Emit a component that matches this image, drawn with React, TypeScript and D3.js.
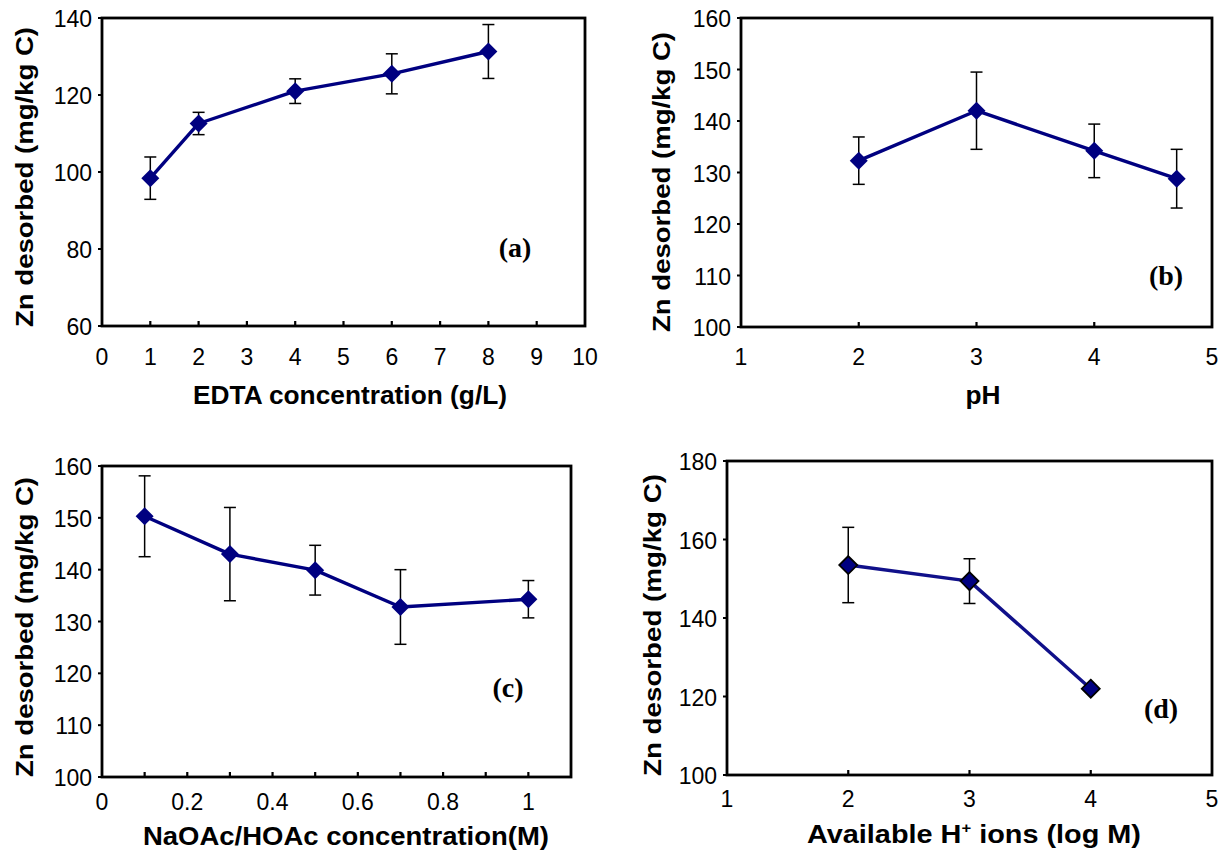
import React from "react";
import * as d3 from "d3";

// ---- Data ----
const edtaX = [1, 2, 4, 6, 8];
const edtaY = [98.4, 112.6, 121.0, 125.5, 131.3];
const edtaErr = [5.5, 2.9, 3.2, 5.2, 7.0];

const phX = [2, 3, 4, 4.7];
const phY = [132.3, 142.0, 134.2, 128.8];
const phErr = [4.6, 7.5, 5.2, 5.7];

const bufX = [0.1, 0.3, 0.5, 0.7, 1.0];
const bufY = [150.3, 143.0, 139.9, 132.8, 134.3];
const bufErr = [7.8, 9.0, 4.8, 7.2, 3.6];

const hX = [2, 3, 4];
const hY = [153.5, 149.4, 122.0];
const hErr = [9.6, 5.7, 0];

const xTicksA = [0, 1, 2, 3, 4, 5, 6, 7, 8, 9, 10];
const yTicksA = [60, 80, 100, 120, 140];
const xTicksB = [1, 2, 3, 4, 5];
const yTicksB = [100, 110, 120, 130, 140, 150, 160];
const xTicksC = [0, 0.1, 0.2, 0.3, 0.4, 0.5, 0.6, 0.7, 0.8, 0.9, 1.0, 1.1];
const xLabelsC = [0, 0.2, 0.4, 0.6, 0.8, 1];
const yTicksC = [100, 110, 120, 130, 140, 150, 160];
const xTicksD = [1, 2, 3, 4, 5];
const yTicksD = [100, 120, 140, 160, 180];

const YTITLE = "Zn desorbed (mg/kg C)";

type PanelProps = {
  box: { l: number; r: number; t: number; b: number };
  xDomain: [number, number];
  yDomain: [number, number];
  xTicks: number[];
  xLabels: number[];
  yTicks: number[];
  xs: number[];
  ys: number[];
  errs: number[];
  letter: string;
  letterPos: [number, number];
  xTitle: React.ReactNode;
  xTitlePos: [number, number];
  xTitleLen: number;
  yTitlePos: [number, number];
  yTitleLen: number;
  xLabelDy: number;
  outlined?: boolean;
  lineColor?: string;
};

const SANS = "'Liberation Sans', Arial, Helvetica, sans-serif";
const SERIF = "'Liberation Serif', 'Times New Roman', serif";

function Panel(p: PanelProps) {
  const x = d3.scaleLinear().domain(p.xDomain).range([p.box.l, p.box.r]);
  const y = d3.scaleLinear().domain(p.yDomain).range([p.box.b, p.box.t]);
  const line = d3
    .line<number>()
    .x((_, i) => x(p.xs[i]))
    .y((d) => y(d));
  const pathD = line(p.ys) || "";
  const dia = 9;
  const fmt = (v: number) => (Math.abs(v - Math.round(v)) < 1e-9 ? String(Math.round(v)) : String(+v.toFixed(1)));
  const lc = p.lineColor || "#000080";
  return (
    <g>
      {/* inner x ticks */}
      {p.xTicks
        .filter((t) => t > p.xDomain[0] + 1e-9 && t < p.xDomain[1] - 1e-9)
        .map((t, i) => (
          <line key={"xt" + i} x1={x(t)} x2={x(t)} y1={p.box.b} y2={p.box.b - 5} stroke="#000" strokeWidth={2.2} />
        ))}
      {/* outer y ticks */}
      {p.yTicks.map((t, i) => (
        <line key={"yt" + i} x1={p.box.l} x2={p.box.l - 4} y1={y(t)} y2={y(t)} stroke="#000" strokeWidth={2} />
      ))}
      {/* frame */}
      <rect
        x={p.box.l}
        y={p.box.t}
        width={p.box.r - p.box.l}
        height={p.box.b - p.box.t}
        fill="none"
        stroke="#000"
        strokeWidth={2.8}
      />
      {/* y tick labels */}
      {p.yTicks.map((t, i) => (
        <text
          key={"yl" + i}
          x={p.box.l - 10}
          y={y(t) + 9}
          textAnchor="end"
          fontFamily={SANS}
          fontSize={23}
          fill="#000"
        >
          {fmt(t)}
        </text>
      ))}
      {/* x tick labels */}
      {p.xLabels.map((t, i) => (
        <text
          key={"xl" + i}
          x={x(t)}
          y={p.box.b + p.xLabelDy}
          textAnchor="middle"
          fontFamily={SANS}
          fontSize={23}
          fill="#000"
        >
          {fmt(t)}
        </text>
      ))}
      {/* error bars */}
      {p.ys.map((v, i) =>
        p.errs[i] > 0 ? (
          <g key={"e" + i} stroke="#000" strokeWidth={1.5}>
            <line x1={x(p.xs[i])} x2={x(p.xs[i])} y1={y(v - p.errs[i])} y2={y(v + p.errs[i])} />
            <line x1={x(p.xs[i]) - 6} x2={x(p.xs[i]) + 6} y1={y(v - p.errs[i])} y2={y(v - p.errs[i])} />
            <line x1={x(p.xs[i]) - 6} x2={x(p.xs[i]) + 6} y1={y(v + p.errs[i])} y2={y(v + p.errs[i])} />
          </g>
        ) : null
      )}
      {/* line */}
      <path d={pathD} fill="none" stroke={lc} strokeWidth={3.4} strokeLinejoin="round" />
      {/* markers */}
      {p.ys.map((v, i) => {
        const cx = x(p.xs[i]);
        const cy = y(v);
        return (
          <path
            key={"m" + i}
            d={`M${cx},${cy - dia}L${cx + dia},${cy}L${cx},${cy + dia}L${cx - dia},${cy}Z`}
            fill="#000080"
            stroke={p.outlined ? "#000" : "none"}
            strokeWidth={p.outlined ? 1.8 : 0}
          />
        );
      })}
      {/* panel letter */}
      <text
        x={p.letterPos[0]}
        y={p.letterPos[1]}
        textAnchor="middle"
        fontFamily={SERIF}
        fontWeight="bold"
        fontSize={28}
        fill="#000"
      >
        {p.letter}
      </text>
      {/* axis titles */}
      <text
        x={p.xTitlePos[0]}
        y={p.xTitlePos[1]}
        textAnchor="middle"
        fontFamily={SANS}
        fontWeight="bold"
        fontSize={26}
        textLength={p.xTitleLen}
        lengthAdjust="spacingAndGlyphs"
        fill="#000"
      >
        {p.xTitle}
      </text>
      <text
        transform={`translate(${p.yTitlePos[0]},${p.yTitlePos[1]}) rotate(-90)`}
        textAnchor="middle"
        fontFamily={SANS}
        fontWeight="bold"
        fontSize={24}
        textLength={p.yTitleLen}
        lengthAdjust="spacingAndGlyphs"
        fill="#000"
      >
        {YTITLE}
      </text>
    </g>
  );
}

export default function App() {
  return (
    <svg
      width={1224}
      height={852}
      style={{ position: "absolute", left: 0, top: 0, background: "#fff" }}
    >
      <rect x={0} y={0} width={1224} height={852} fill="#fff" />
      <Panel
        box={{ l: 102, r: 585, t: 18, b: 326 }}
        xDomain={[0, 10]}
        yDomain={[60, 140]}
        xTicks={xTicksA}
        xLabels={xTicksA}
        yTicks={yTicksA}
        xs={edtaX}
        ys={edtaY}
        errs={edtaErr}
        letter="(a)"
        letterPos={[515, 257]}
        xTitle="EDTA concentration (g/L)"
        xTitlePos={[350, 404]}
        xTitleLen={314}
        yTitlePos={[33, 177]}
        yTitleLen={300}
        xLabelDy={39}
      />
      <Panel
        box={{ l: 741, r: 1212, t: 18, b: 327 }}
        xDomain={[1, 5]}
        yDomain={[100, 160]}
        xTicks={xTicksB}
        xLabels={xTicksB}
        yTicks={yTicksB}
        xs={phX}
        ys={phY}
        errs={phErr}
        letter="(b)"
        letterPos={[1166, 285]}
        xTitle="pH"
        xTitlePos={[983, 404]}
        xTitleLen={35}
        yTitlePos={[670, 182]}
        yTitleLen={300}
        xLabelDy={38}
      />
      <Panel
        box={{ l: 102, r: 571, t: 466, b: 777 }}
        xDomain={[0, 1.1]}
        yDomain={[100, 160]}
        xTicks={xTicksC}
        xLabels={xLabelsC}
        yTicks={yTicksC}
        xs={bufX}
        ys={bufY}
        errs={bufErr}
        letter="(c)"
        letterPos={[508, 697]}
        xTitle="NaOAc/HOAc concentration(M)"
        xTitlePos={[346, 845]}
        xTitleLen={406}
        yTitlePos={[33, 627]}
        yTitleLen={300}
        xLabelDy={33}
      />
      <Panel
        box={{ l: 727, r: 1212, t: 461, b: 775 }}
        xDomain={[1, 5]}
        yDomain={[100, 180]}
        xTicks={xTicksD}
        xLabels={xTicksD}
        yTicks={yTicksD}
        xs={hX}
        ys={hY}
        errs={hErr}
        letter="(d)"
        letterPos={[1161, 718]}
        xTitle={
          <>
            Available H
            <tspan fontSize={15} dy={-10}>+</tspan>
            <tspan dy={10}> ions (log M)</tspan>
          </>
        }
        xTitlePos={[974, 843]}
        xTitleLen={334}
        yTitlePos={[661, 625]}
        yTitleLen={302}
        xLabelDy={32}
        outlined
        lineColor="#10108a"
      />
    </svg>
  );
}
